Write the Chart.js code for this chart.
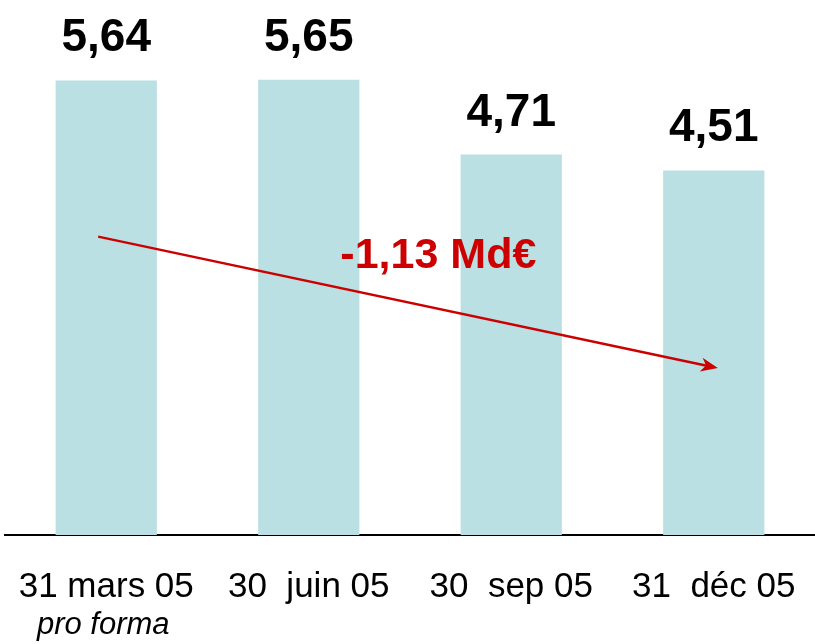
<!DOCTYPE html>
<html>
<head>
<meta charset="utf-8">
<script src="https://cdn.jsdelivr.net/npm/chart.js@4"></script>
<style>
  html, body { margin: 0; padding: 0; background: #fff; overflow: hidden; }
  #wrap { width: 815px; height: 644px; position: relative; }
</style>
</head>
<body>
<div id="wrap"><canvas id="myChart"></canvas></div>
<script>
// Chart data
const categories = ['31 mars 05', '30  juin 05', '30  sep 05', '31  déc 05'];
const subLabels = ['pro forma', '', '', ''];
const values = [5.64, 5.65, 4.71, 4.51];
const valueLabels = ['5,64', '5,65', '4,71', '4,51'];

// Trend arrow (category index, value) and its caption
const arrowFrom = [-0.04, 3.68];
const arrowTo = [3.02, 2.03];
const arrowText = '-1,13 Md€';
const arrowTextAt = [1.64, 3.29];

const yMin = -0.065;
const yMax = 6.65;

document.addEventListener("DOMContentLoaded", () => {
    const ctx = document.getElementById("myChart").getContext("2d");

    // Draws the value labels, the "pro forma" line and the red trend arrow
    const extras = {
        id: 'extras',
        afterDatasetsDraw(chart) {
            const c = chart.ctx;
            const xs = chart.scales.x;
            const ys = chart.scales.y;
            const meta = chart.getDatasetMeta(0);

            c.save();
            // values above bars
            c.fillStyle = '#000';
            c.font = 'bold 46px "Liberation Sans", Arial, sans-serif';
            c.textAlign = 'center';
            c.textBaseline = 'alphabetic';
            meta.data.forEach((bar, i) => {
                c.fillText(valueLabels[i], bar.x, bar.y - 29);
            });

            // second line of tick labels
            c.font = 'italic 31px "Liberation Sans", Arial, sans-serif';
            subLabels.forEach((t, i) => {
                if (t) c.fillText(t, xs.getPixelForValue(i) - 3, 634);
            });

            // arrow
            const x1 = xs.getPixelForValue(arrowFrom[0]);
            const y1 = ys.getPixelForValue(arrowFrom[1]);
            const x2 = xs.getPixelForValue(arrowTo[0]);
            const y2 = ys.getPixelForValue(arrowTo[1]);
            const ang = Math.atan2(y2 - y1, x2 - x1);
            const red = '#CC0000';
            c.strokeStyle = red;
            c.fillStyle = red;
            c.lineWidth = 2.5;
            c.beginPath();
            c.moveTo(x1, y1);
            c.lineTo(x2 - 10 * Math.cos(ang), y2 - 10 * Math.sin(ang));
            c.stroke();
            c.translate(x2, y2);
            c.rotate(ang);
            c.beginPath();
            c.moveTo(0, 0);
            c.lineTo(-17, -7);
            c.lineTo(-12, 0);
            c.lineTo(-17, 7);
            c.closePath();
            c.fill();
            c.setTransform(1, 0, 0, 1, 0, 0);

            c.font = 'bold 43px "Liberation Sans", Arial, sans-serif';
            c.fillText(arrowText, xs.getPixelForValue(arrowTextAt[0]), ys.getPixelForValue(arrowTextAt[1]));
            c.restore();
        }
    };

    new Chart(ctx, {
        type: 'bar',
        data: {
            labels: categories,
            datasets: [{
                data: values,
                base: yMin,
                backgroundColor: '#BAE0E3',
                borderWidth: 0,
                barPercentage: 0.5,
                categoryPercentage: 1.0
            }]
        },
        options: {
            responsive: true,
            maintainAspectRatio: false,
            animation: false,
            events: [],
            layout: { padding: { left: 5, right: 0, top: 0, bottom: 0 } },
            plugins: {
                legend: { display: false },
                tooltip: { enabled: false }
            },
            scales: {
                x: {
                    grid: { display: false, drawTicks: false },
                    border: { display: true, color: '#000', width: 2 },
                    ticks: {
                        color: '#000',
                        padding: 31,
                        maxRotation: 0,
                        autoSkip: false,
                        font: { family: '"Liberation Sans", Arial, sans-serif', size: 35, lineHeight: 1.2 }
                    },
                    // fixed axis height, no extra side padding for labels
                    afterFit(scale) {
                        scale.height = 109;
                        scale.paddingLeft = 0;
                        scale.paddingRight = 0;
                    }
                },
                y: {
                    display: false,
                    min: yMin,
                    max: yMax
                }
            }
        },
        plugins: [extras]
    });
});
</script>
</body>
</html>
